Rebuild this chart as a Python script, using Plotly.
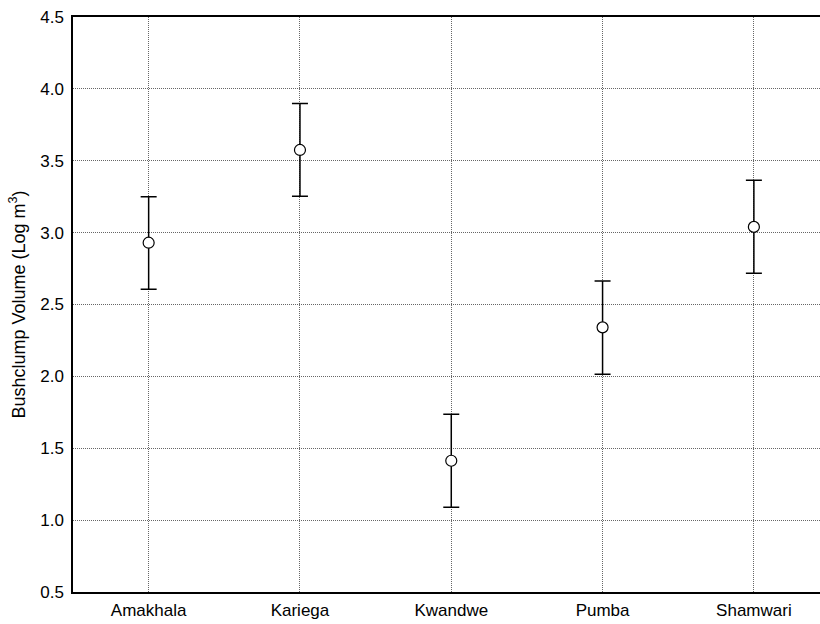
import plotly.graph_objects as go

sites = ["Amakhala", "Kariega", "Kwandwe", "Pumba", "Shamwari"]
means = [2.93, 3.575, 1.413, 2.341, 3.04]
upper = [3.249, 3.898, 1.736, 2.663, 3.364]
lower = [2.606, 3.253, 1.089, 2.014, 2.717]
y_ticks = [0.5, 1.0, 1.5, 2.0, 2.5, 3.0, 3.5, 4.0, 4.5]

xpos = list(range(len(sites)))
err_plus = [u - m for u, m in zip(upper, means)]
err_minus = [m - l for m, l in zip(means, lower)]

fig = go.Figure()
fig.add_trace(go.Scatter(
    x=xpos, y=means, mode="markers",
    marker=dict(symbol="circle", size=11, color="white", line=dict(width=1.2, color="black")),
    error_y=dict(type="data", symmetric=False, array=err_plus, arrayminus=err_minus,
                 color="black", thickness=1.5, width=8),
    showlegend=False,
))

font = "Liberation Sans, Arial, sans-serif"
grid = dict(showgrid=True, gridcolor="#666666", griddash="1px,1px", gridwidth=1)
fig.update_layout(
    width=820, height=624,
    margin=dict(l=73, r=0, t=17, b=32),
    paper_bgcolor="white", plot_bgcolor="white",
    font=dict(family=font, size=17, color="black"),
    xaxis=dict(
        tickvals=xpos, ticktext=sites, range=[-0.5, 4.437],
        showline=True, linecolor="black", linewidth=1.5, mirror=True,
        ticks="", zeroline=False, ticklabelstandoff=2, **grid,
    ),
    yaxis=dict(
        tickvals=y_ticks, ticktext=[f"{v:.1f}" for v in y_ticks], range=[0.5, 4.5],
        showline=True, linecolor="black", linewidth=1.5,
        ticks="", zeroline=False, ticklabelstandoff=4, **grid,
        title=dict(text="Bushclump Volume (Log m<sup>3</sup>)", standoff=10, font=dict(size=18)),
    ),
)

fig.write_html("out.html")
